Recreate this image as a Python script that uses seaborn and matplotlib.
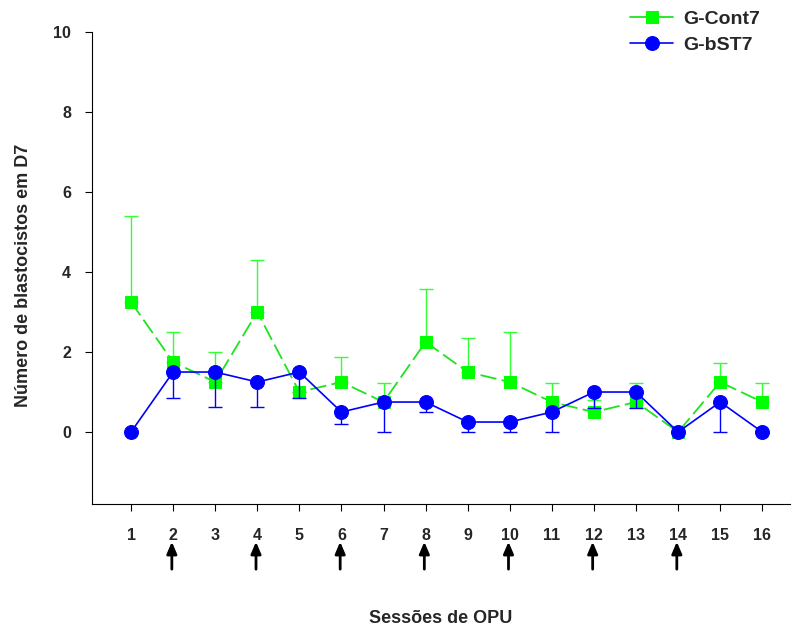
import matplotlib
matplotlib.use("Agg")
import matplotlib.pyplot as plt
import seaborn as sns
import numpy as np
import pandas as pd

sessions = list(range(1, 17))
cont_mean = [3.25, 1.75, 1.25, 3.0, 1.0, 1.25, 0.75, 2.25, 1.5, 1.25, 0.75, 0.5, 0.75, 0.0, 1.25, 0.75]
cont_err_up = [2.15, 0.75, 0.75, 1.3, 0.0, 0.63, 0.47, 1.32, 0.86, 1.25, 0.47, 0.29, 0.47, 0.0, 0.47, 0.47]
bst_mean = [0.0, 1.5, 1.5, 1.25, 1.5, 0.5, 0.75, 0.75, 0.25, 0.25, 0.5, 1.0, 1.0, 0.0, 0.75, 0.0]
bst_err_down = [0.0, 0.65, 0.87, 0.62, 0.65, 0.29, 0.75, 0.25, 0.25, 0.25, 0.5, 0.4, 0.4, 0.0, 0.75, 0.0]
arrow_sessions = [2, 4, 6, 8, 10, 12, 14]
yticks = [0, 2, 4, 6, 8, 10]

sns.set_style("white")
plt.rcParams['font.family'] = ['Liberation Sans', 'DejaVu Sans']
plt.rcParams['font.weight'] = 'bold'

GREEN = "#00ff00"
LINEG = "#1fe31f"
BLUE = "#0000ff"

fig = plt.figure(figsize=(7.98, 6.34), dpi=100)
ax = fig.add_axes([0.1153, 0.205, 0.99 - 0.1153, 0.9495 - 0.205])

df = pd.DataFrame({"Sessão": sessions, "G-Cont7": cont_mean, "G-bST7": bst_mean})

# error bars (one-sided)
ax.errorbar(sessions, cont_mean, yerr=[np.zeros(16), cont_err_up], fmt="none",
            ecolor="#33ff33", elinewidth=1.0, capsize=5, capthick=1.0, zorder=2)
ax.errorbar(sessions, bst_mean, yerr=[bst_err_down, np.zeros(16)], fmt="none",
            ecolor=BLUE, elinewidth=1.0, capsize=5, capthick=1.0, zorder=4)

sns.lineplot(data=df, x="Sessão", y="G-Cont7", ax=ax, color=LINEG, lw=1.3,
             marker="s", markersize=9, markerfacecolor=GREEN, markeredgecolor=GREEN,
             zorder=3, label="G-Cont7", legend=False)
ax.lines[-1].set_dashes((9, 3))
sns.lineplot(data=df, x="Sessão", y="G-bST7", ax=ax, color=BLUE, lw=1.2,
             marker="o", markersize=10, markerfacecolor=BLUE, markeredgecolor=BLUE,
             zorder=5, label="G-bST7", legend=False)

ax.set_xlim(0.073, 16.66)
ax.set_ylim(-1.8, 10)
ax.set_xticks(sessions)
ax.set_xticklabels([str(s) for s in sessions], fontsize=11.5, fontweight="bold")
ax.set_yticks(yticks)
ax.set_yticklabels([str(t) for t in yticks], fontsize=11.5, fontweight="bold")
ax.tick_params(axis="both", direction="out", length=5, width=0.8, color="black",
               bottom=True, left=True)
ax.tick_params(axis="x", pad=12)
ax.tick_params(axis="y", pad=10)
for s in ["top", "right"]:
    ax.spines[s].set_visible(False)
for s in ["left", "bottom"]:
    ax.spines[s].set_color("black")
    ax.spines[s].set_linewidth(0.8)

ax.set_xlabel("")
ax.set_ylabel("")
fig.text(0.5525, 0.025, "Sessões de OPU", ha="center", va="center",
         fontsize=13, fontweight="bold")
fig.text(0.03, 0.565, "Número de blastocistos em D7", ha="center", va="center",
         rotation=90, fontsize=13, fontweight="bold")

# arrows below tick labels
for s in arrow_sessions:
    ax.annotate("", xy=(s - 0.03, -0.08), xytext=(s - 0.03, -0.138),
                xycoords=("data", "axes fraction"), textcoords=("data", "axes fraction"),
                arrowprops=dict(arrowstyle="-|>,head_length=0.7,head_width=0.3",
                                color="black", lw=2, shrinkA=0, shrinkB=0),
                annotation_clip=False)

handles, labels = ax.get_legend_handles_labels()
leg = fig.legend(handles, labels, loc="upper left", bbox_to_anchor=(0.768, 1.012),
                 frameon=False, handlelength=2.2, handletextpad=0.5,
                 labelspacing=0.45, prop={"weight": "bold", "size": 14})
for h in leg.legend_handles:
    h.set_linestyle("-")

fig.savefig("out.png", dpi=100)
